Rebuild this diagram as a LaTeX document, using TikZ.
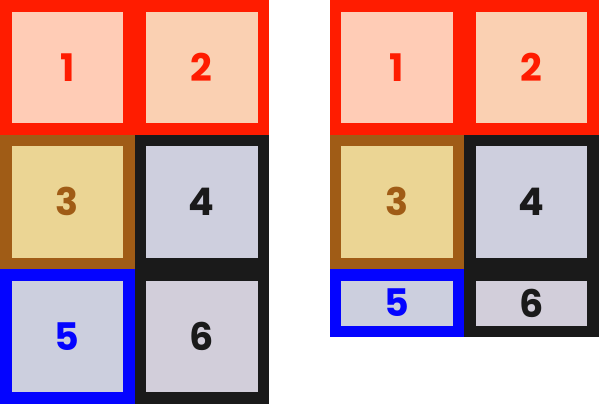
\documentclass[tikz,border=0pt]{standalone}
\usepackage{fontspec}
\setmainfont{Poppins}
\usepackage{xcolor}
\usepackage{tikz}
\usetikzlibrary{positioning}
\definecolor{myred}{RGB}{255,28,0}
\definecolor{mybrown}{RGB}{160,92,22}
\definecolor{mydark}{RGB}{26,26,26}
\definecolor{myblue}{RGB}{4,4,255}
\definecolor{fillone}{RGB}{255,204,182}
\definecolor{filltwo}{RGB}{250,208,178}
\definecolor{fillthree}{RGB}{235,213,148}
\definecolor{fillfour}{RGB}{206,207,222}
\definecolor{fillfive}{RGB}{204,207,222}
\definecolor{fillsix}{RGB}{210,206,218}
\tikzset{
  cell/.style={rectangle, line width=11.5pt, inner sep=0pt,
    minimum width=123pt, minimum height=123pt,
    font=\fontsize{38}{38}\selectfont\bfseries},
  redcell/.style={cell, draw=myred, text=myred},
  browncell/.style={cell, draw=mybrown, fill=fillthree, text=mybrown},
  darkcell/.style={cell, draw=mydark, text=mydark},
  bluecell/.style={cell, draw=myblue, fill=fillfive, text=myblue},
  shortcell/.style={minimum height=56.5pt}
}

\begin{document}
\begin{tikzpicture}[x=1pt, y=1pt]
  \useasboundingbox (0,0) rectangle (600,-405);

  % Left grid
  \node[redcell, fill=fillone, anchor=north west] (l1) at (0,0) {1};
  \node[redcell, fill=filltwo, right=0pt of l1] (l2) {2};
  \node[browncell, below=0pt of l1] (l3) {3};
  \node[darkcell, fill=fillfour, below=0pt of l2] (l4) {4};
  \node[bluecell, below=0pt of l3] (l5) {5};
  \node[darkcell, fill=fillsix, below=0pt of l4] (l6) {6};

  % Right grid, short last row
  \node[redcell, fill=fillone, anchor=north west] (r1) at (329.5,0) {1};
  \node[redcell, fill=filltwo, right=0pt of r1] (r2) {2};
  \node[browncell, below=0pt of r1] (r3) {3};
  \node[darkcell, fill=fillfour, below=0pt of r2] (r4) {4};
  \node[bluecell, shortcell, below=0pt of r3] (r5) {5};
  \node[darkcell, fill=fillsix, shortcell, below=0pt of r4] (r6) {6};
\end{tikzpicture}
\end{document}
